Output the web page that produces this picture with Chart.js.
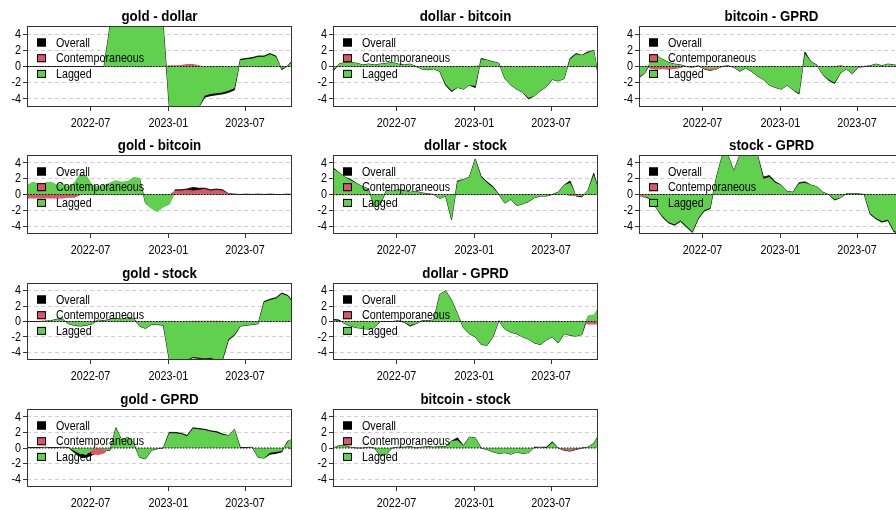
<!DOCTYPE html>
<html>
<head>
<meta charset="utf-8">
<script src="https://cdn.jsdelivr.net/npm/chart.js@4.4.1/dist/chart.umd.min.js"></script>
<style>
  html, body { margin: 0; padding: 0; background: #fff; overflow: hidden; }
  #wrap { position: relative; width: 896px; height: 510px; overflow: hidden; }
  #wrap canvas { position: absolute; }
</style>
</head>
<body>
<div id="wrap"></div>
<script>
// sample dates (roughly every two weeks)
const dates = [
  '2022-02-01','2022-02-15','2022-03-01','2022-03-15','2022-03-29','2022-04-12','2022-04-26','2022-05-10','2022-05-24','2022-06-07',
  '2022-06-21','2022-07-05','2022-07-19','2022-08-02','2022-08-16','2022-08-30','2022-09-13','2022-09-27','2022-10-11','2022-10-25',
  '2022-11-08','2022-11-22','2022-12-06','2022-12-20','2023-01-03','2023-01-17','2023-01-31','2023-02-14','2023-02-28','2023-03-14',
  '2023-03-28','2023-04-11','2023-04-25','2023-05-09','2023-05-23','2023-06-06','2023-06-20','2023-07-04','2023-07-18','2023-08-01',
  '2023-08-15','2023-08-29','2023-09-12','2023-09-26','2023-10-10','2023-10-20'
];
const xStart = '2022-02-01';
const xEnd = '2023-10-20';
const xTickDates = ['2022-07-01', '2023-01-01', '2023-07-01'];
const xTickLabels = ['2022-07', '2023-01', '2023-07'];
const yTicks = [-4, -2, 0, 2, 4];
const legendLabels = ['Overall', 'Contemporaneous', 'Lagged'];

// gold - dollar
const goldDollarOverall = [0,0,0,0,0,0,0,0,0,0, 0,0,0,0,5,5,5,5,5,5, 5,5,5,5,-5,-5,-5,-5,-5,-5,
  -3.8,-3.6,-3.5,-3.4,-3.2,-2.9,0.9,1.0,1.1,1.3, 1.3,1.6,1.3,-0.4,0.1,0.7];
const goldDollarContemp = [0,0,0,0,0,0,0,0,0,0, 0,0,0,0,0,0,0,0,0,0, 0,0,0,0,0.15,0.15,0.2,0.3,0.3,0.15,
  0,0,0,0,0,0,0,0,0,0, 0,0,0,0,0,0];
const goldDollarLagged = [0,0,0,0,0,0,0,0,0,0, 0,0,0,0,5,5,5,5,5,5, 5,5,5,5,-5,-5,-5,-5,-5,-5,
  -3.6,-3.4,-3.3,-3.2,-3.0,-2.7,0.8,0.9,1.0,1.2, 1.2,1.5,1.2,-0.3,0.1,0.6];

// dollar - bitcoin
const dollarBitcoinOverall = [-0.6,0.3,0.5,0.5,0.4,0.2,0.3,0.2,0.3,0.4, 0.5,0.3,0.2,0.3,0,-0.3,-0.4,-0.3,-0.6,-2.3,
  -3.1,-2.6,-2.8,-2.3,-2.6,1.0,0.8,0.6,0.4,-1.5, -2.3,-2.8,-3.2,-4.0,-3.6,-3.0,-2.5,-1.6,-1.8,-1.5, 1.0,1.6,1.4,1.8,2.0,-1.0];
const dollarBitcoinContemp = [0,0,0,0,0,0,0,0,0,0, 0,0,0,0,0,0,0,0,0,0, 0,0,0,0,0.1,0.15,0,0,0,0,
  0,0,0,0,0,0,0,0,0,0, 0,0,0,0,0,0];
const dollarBitcoinLagged = [-0.5,0.3,0.5,0.5,0.4,0.2,0.3,0.2,0.3,0.4, 0.5,0.3,0.2,0.3,0,-0.3,-0.4,-0.3,-0.6,-2.2,
  -3.0,-2.6,-2.8,-2.3,-2.4,0.9,0.8,0.6,0.4,-1.5, -2.3,-2.8,-3.2,-3.9,-3.6,-3.0,-2.5,-1.6,-1.8,-1.5, 0.9,1.5,1.4,1.7,2.0,-0.8];

// bitcoin - GPRD
const bitcoinGprdOverall = [-1.4,-0.8,0.6,1.3,0.9,0.5,0.3,0.2,0,-0.1, 0.1,-0.3,-0.5,-0.3,0,0.1,-0.1,-0.6,-0.2,-0.6,
  -1.2,-1.6,-2.3,-2.6,-2.8,-2.3,-2.9,-3.4,1.8,0.6, 0.2,-1.0,-1.7,-2.1,-0.8,-0.3,-0.9,-0.1,0,0.1, 0.3,0.1,0.3,0.2,0.1,0];
const bitcoinGprdContemp = [0,0,-0.3,-0.4,-0.3,-0.4,-0.3,-0.2,0,0, 0,-0.3,-0.5,-0.4,0,0,0,0,0,0, 0,0,0,0,0,0,0,0,0,0,
  0,0,0,0,0.2,0,0,0,0,0, 0,0,0,0,0,0];
const bitcoinGprdLagged = [-1.3,-0.8,0.8,1.5,0.9,0.5,0.3,0.2,0,-0.1, 0.1,-0.2,-0.3,-0.2,0,0.1,-0.1,-0.6,-0.2,-0.6,
  -1.2,-1.6,-2.3,-2.6,-2.8,-2.3,-2.9,-3.3,1.6,0.6, 0.2,-1.0,-1.6,-2.0,-0.8,-0.3,-0.9,-0.1,0,0.1, 0.3,0.1,0.3,0.2,0.1,0];

// gold - bitcoin
const goldBitcoinOverall = [1.1,1.5,1.3,1.4,1.5,1.2,1.3,0.9,1.4,2.5, 2.3,1.1,0.9,1.1,1.4,1.7,1.5,1.6,2.1,2.0,
  -1.1,-1.7,-2.1,-1.5,-1.2,0.6,0.6,0.7,0.9,0.8, 0.8,0.6,0.7,0.6,0.1,0.05,0,0.05,0,0.05, 0,0.05,0,0,0.05,0];
const goldBitcoinContemp = [-0.5,-0.5,-0.5,-0.5,-0.5,-0.5,-0.5,-0.4,-0.4,-0.1, 0,0,0,0,0,0,0,0,0,0,
  0,0,0,0,0,0.5,0.5,0.6,0.5,0.6, 0.7,0.5,0.6,0.5,0.1,0,0,0,0,0, 0,0,0,0,0,0];
const goldBitcoinLagged = [1.2,1.6,1.4,1.5,1.6,1.3,1.4,1.0,1.5,2.6, 2.4,1.2,1.0,1.2,1.5,1.8,1.6,1.7,2.2,2.1,
  -1.2,-1.8,-2.2,-1.6,-1.3,0.1,0.1,0.1,0.1,0.1, 0.1,0.1,0.1,0.1,0,0,0,0,0,0, 0,0,0,0,0,0];

// dollar - stock
const dollarStockOverall = [3.4,2.8,2.2,1.9,1.4,1.0,0.7,-1.6,-1.2,0.5, 0.4,0.6,0.5,0.3,0.4,0.2,0.1,0,-0.5,-0.2,
  -3.2,1.7,1.9,2.2,4.5,2.3,1.6,1.0,0,-1.1, -0.6,-1.4,-1.2,-0.9,-0.4,-0.2,-0.2,0,0.3,1.2, 1.7,-0.2,-0.3,0.5,2.7,0.8];
const dollarStockContemp = [-0.1,-0.1,-0.1,-0.1,-0.1,-0.1,-0.1,0,0,0, 0,0,0,0,0,0,0,0,0,0, 0,0,0,0,0,0,0,0,0,0,
  0,0,0,0,0,0,0,0,0,0, -0.2,-0.2,-0.2,0,0,0];
const dollarStockLagged = [3.3,2.8,2.2,1.8,1.4,1.0,0.7,-1.6,-1.2,0.5, 0.4,0.6,0.5,0.3,0.4,0.2,0.1,0,-0.5,-0.2,
  -3.2,1.6,1.9,2.2,4.5,2.2,1.5,0.9,0,-1.1, -0.6,-1.4,-1.2,-0.9,-0.4,-0.2,-0.2,0,0.3,1.2, 1.5,-0.1,-0.2,0.5,2.5,0.8];

// stock - GPRD
const stockGprdOverall = [-0.1,-0.3,-0.6,-1.8,-2.9,-3.6,-3.9,-3.4,-4.1,-4.8, -3.1,-2.1,-1.8,2.0,4.8,5,3.0,5,5,5,
  5,2.2,2.4,1.6,1.2,0.4,0.3,1.5,1.6,1.2, 1.0,0.3,0,-0.7,-0.4,0.1,0.1,0.1,0,-2.5, -3.1,-3.5,-3.3,-4.7,-5,-5];
const stockGprdContemp = [-0.2,-0.4,-0.2,0,0,0,0,0,0,0, 0,0,0,0,0,0,0,0,0,0, 0,0,0,0,0,0,0,0,0,0,
  0,0,0,0,0,0,0,0,0,0, 0,0,0,0,0,0];
const stockGprdLagged = [0,-0.2,-0.6,-1.8,-2.8,-3.5,-3.8,-3.3,-4.0,-4.7, -3.0,-2.0,-1.7,2.0,4.8,5,3.0,5,5,5,
  5,2.0,2.2,1.5,1.2,0.4,0.3,1.4,1.5,1.2, 1.0,0.3,0,-0.6,-0.4,0.1,0.1,0.1,0,-2.4, -3.0,-3.4,-3.2,-4.6,-5,-5];

// gold - stock
const goldStockOverall = [0,0,0,0.05,0.1,0.3,0.3,-0.3,-0.5,-0.6, -0.5,-0.3,0.2,0.1,0.3,0.4,0.3,0.5,0.4,-0.6,
  -0.9,-0.4,-0.4,-0.5,-5,-5,-5,-5,-4.7,-4.8, -4.9,-4.8,-5,-5,-2.4,-1.8,-0.6,-0.5,-0.4,-0.3, 2.6,2.9,3.1,3.7,3.4,2.7];
const goldStockContemp = [0,0,0,0,0,0,0,0,0,0, 0,0,0,0,0,0,0,0,0,0, 0,0,0,0,0,0,0,0,0.1,0.1,
  0.1,0.1,0.1,0.1,0,0,0,0,0,0, 0,0,0,0,0,0];
const goldStockLagged = [0,0,0,0.05,0.1,0.3,0.3,-0.3,-0.5,-0.6, -0.5,-0.3,0.2,0.1,0.3,0.4,0.3,0.5,0.4,-0.6,
  -0.9,-0.4,-0.4,-0.5,-5,-5,-5,-5,-4.6,-4.7, -4.8,-4.7,-5,-4.9,-2.3,-1.7,-0.6,-0.5,-0.4,-0.3, 2.5,2.8,3.0,3.6,3.3,2.6];

// dollar - GPRD
const dollarGprdOverall = [0.3,0.2,-0.3,-0.6,-0.8,-0.9,-1.0,-0.8,0,0, 0,0.1,-0.1,-0.6,-0.3,0.1,0.1,0.2,3.5,4.0,
  2.8,1.0,-0.8,-1.6,-2.0,-3.0,-3.1,-2.0,0.1,-1.0, -1.4,-1.6,-2.0,-2.3,-2.8,-3.0,-2.4,-2.0,-2.8,-1.6, -1.8,-1.9,-1.7,0.6,0.7,1.4];
const dollarGprdContemp = [0,0,-0.1,-0.1,-0.1,-0.1,-0.1,-0.1,0,0, 0,0,0,0,0,0,0,0,0,0, 0,0,0,0,0,0,0,0,0,0,
  0,0,0,0,0,0,0,0,0,0, 0,0,0,-0.4,-0.4,-0.4];
const dollarGprdLagged = [0.2,0.1,-0.3,-0.6,-0.8,-0.9,-1.0,-0.8,0,0, 0,0.1,-0.1,-0.5,-0.3,0.1,0.1,0.2,3.5,4.0,
  2.8,1.0,-0.8,-1.6,-2.0,-3.0,-3.1,-2.0,0.1,-1.0, -1.4,-1.6,-2.0,-2.3,-2.8,-3.0,-2.4,-2.0,-2.8,-1.6, -1.8,-1.9,-1.7,0.8,0.9,1.8];

// gold - GPRD
const goldGprdOverall = [0.05,0.05,0.05,0.1,0.05,0.05,0.1,0.05,-0.6,-1.1, -1.2,-0.9,-0.5,-0.3,-0.3,2.6,1.0,1.4,0.6,-1.2,
  -1.4,-0.3,-0.1,0,2.0,2.0,1.9,1.6,2.6,2.5, 2.4,2.2,2.1,1.8,1.6,2.4,0.05,0.05,0.1,-1.2, -1.3,-0.8,-0.7,-0.5,0.9,1.0];
const goldGprdContemp = [0,0,0,0,0,0,0,0,0,0, -0.5,-0.8,-0.9,-0.7,0,0,0,0,0,0, 0,0,0,0,0,0,0,0,0,0,
  0,0,0,0,0,0,0,0,0,0, 0,0,0,0,0,-0.3];
const goldGprdLagged = [0,0,0,0.1,0,0,0.1,0,-0.4,-0.8, -0.9,-0.2,-0.1,-0.2,-0.3,2.6,1.0,1.4,0.6,-1.2,
  -1.4,-0.3,-0.1,0,1.9,1.9,1.8,1.5,2.5,2.4, 2.3,2.1,2.0,1.7,1.6,2.4,0,0,0.1,-1.2, -1.3,-0.6,-0.5,-0.4,0.8,1.3];

// bitcoin - stock
const bitcoinStockOverall = [0,0.3,0.3,0.1,0,0,0.1,0,-1.0,-0.8, 0,0.1,0.1,0.2,0,0.1,0.2,0.1,0.2,0.2,
  0.9,1.3,0.3,1.4,1.3,0,-0.2,-0.5,-0.7,-0.6, -0.8,-0.5,-0.7,-0.6,0.1,0.1,0.1,0.8,0,-0.3, -0.4,-0.2,0,0.1,0.6,1.5];
const bitcoinStockContemp = [0,0,0,0,0,0,0,0,0,0, 0,0,0,0,0,0,0,0,0,0, 0,0,0,0,0,0,0,0,0,0,
  0,0,0,0,0,0,0,0,0,-0.3, -0.4,-0.2,0,0,0,0];
const bitcoinStockLagged = [0,0.3,0.3,0.1,0,0,0.1,0,-1.0,-0.8, 0,0.1,0.1,0.2,0,0.1,0.2,0.1,0.2,0.2,
  0.9,1.0,0.3,1.4,1.3,0,-0.2,-0.5,-0.7,-0.6, -0.8,-0.5,-0.7,-0.6,0,0.1,0,0.7,0,-0.1, -0.2,0,0,0.1,0.6,1.5];

const seriesColors = ['#000000', '#DF536B', '#61D04F'];
const labelFont = "'Liberation Sans', Arial, sans-serif";

const panels = [
  { title: 'gold - dollar', col: 0, row: 0, series: [goldDollarOverall, goldDollarContemp, goldDollarLagged] },
  { title: 'dollar - bitcoin', col: 1, row: 0, series: [dollarBitcoinOverall, dollarBitcoinContemp, dollarBitcoinLagged] },
  { title: 'bitcoin - GPRD', col: 2, row: 0, series: [bitcoinGprdOverall, bitcoinGprdContemp, bitcoinGprdLagged] },
  { title: 'gold - bitcoin', col: 0, row: 1, series: [goldBitcoinOverall, goldBitcoinContemp, goldBitcoinLagged] },
  { title: 'dollar - stock', col: 1, row: 1, series: [dollarStockOverall, dollarStockContemp, dollarStockLagged] },
  { title: 'stock - GPRD', col: 2, row: 1, series: [stockGprdOverall, stockGprdContemp, stockGprdLagged] },
  { title: 'gold - stock', col: 0, row: 2, series: [goldStockOverall, goldStockContemp, goldStockLagged] },
  { title: 'dollar - GPRD', col: 1, row: 2, series: [dollarGprdOverall, dollarGprdContemp, dollarGprdLagged] },
  { title: 'gold - GPRD', col: 0, row: 3, series: [goldGprdOverall, goldGprdContemp, goldGprdLagged] },
  { title: 'bitcoin - stock', col: 1, row: 3, series: [bitcoinStockOverall, bitcoinStockContemp, bitcoinStockLagged] },
];

// grid placement of the small multiples
const colLeft = [0, 306, 612];
const rowTop = [0, 129, 257, 383];
const rowPlotHeight = [81, 79, 77, 78];

function dayNum(d) {
  return (Date.parse(d) - Date.parse(xStart)) / 864e5;
}

// the reference uses a narrow-looking face; squeeze text horizontally around its anchor
function condenseText(ctx) {
  const fill = ctx.fillText.bind(ctx);
  ctx.fillText = (text, x, y) => {
    const k = ctx.font.indexOf('bold') >= 0 ? 0.95 : 0.8;
    ctx.save();
    ctx.translate(x, y);
    ctx.scale(k, 1);
    fill(text, 0, 0);
    ctx.restore();
  };
}

// title over the plot region, zero line, inset legend and box, drawn like in R
const decor = {
  id: 'decor',
  afterDatasetsDraw(chart, args, opts) {
    const { ctx, chartArea: a, scales: { y } } = chart;
    const y0 = y.getPixelForValue(0);
    ctx.save();
    ctx.strokeStyle = '#000';
    ctx.lineWidth = 1.2;
    ctx.setLineDash([1.5, 1.5]);
    ctx.beginPath();
    ctx.moveTo(a.left, y0);
    ctx.lineTo(a.right, y0);
    ctx.stroke();
    ctx.setLineDash([]);

    ctx.font = '13.4px ' + labelFont;
    ctx.textAlign = 'left';
    ctx.textBaseline = 'middle';
    legendLabels.forEach((lab, i) => {
      const cy = a.top + 16.5 + i * 15.7;
      ctx.fillStyle = seriesColors[i];
      ctx.fillRect(a.left + 10, cy - 4, 9, 8);
      ctx.strokeStyle = '#000';
      ctx.lineWidth = 1;
      ctx.strokeRect(a.left + 10.5, cy - 3.5, 8, 7);
      ctx.fillStyle = '#000';
      ctx.fillText(lab, a.left + 29, cy + 0.5);
    });

    ctx.strokeStyle = '#333';
    ctx.lineWidth = 1;
    ctx.strokeRect(a.left + 0.5, a.top + 0.5, a.right - a.left - 1, a.bottom - a.top - 1);

    ctx.font = 'bold 14px ' + labelFont;
    ctx.textAlign = 'center';
    ctx.textBaseline = 'alphabetic';
    ctx.fillStyle = '#000';
    ctx.fillText(opts.title, (a.left + a.right) / 2, a.top - 5);
    ctx.restore();
  }
};

const wrap = document.getElementById('wrap');

panels.forEach((p) => {
  const canvas = document.createElement('canvas');
  const h = 26 + rowPlotHeight[p.row] + 27;
  canvas.width = 300;
  canvas.height = h;
  canvas.style.left = colLeft[p.col] + 'px';
  canvas.style.top = rowTop[p.row] + 'px';
  canvas.style.width = '300px';
  canvas.style.height = h + 'px';
  wrap.appendChild(canvas);
  condenseText(canvas.getContext('2d'));

  // overall at the back, lagged on top
  const datasets = p.series.map((vals, i) => ({
    label: legendLabels[i],
    data: dates.map((d, j) => ({ x: dayNum(d), y: vals[j] })),
    backgroundColor: seriesColors[i],
    borderColor: seriesColors[i],
    borderWidth: i === 0 ? 0.8 : 0,
    pointRadius: 0,
    fill: 'origin',
    tension: 0,
    order: 2 - i,
  }));

  new Chart(canvas, {
    type: 'line',
    data: { datasets },
    options: {
      responsive: false,
      animation: false,
      devicePixelRatio: 1,
      layout: { padding: { left: 0, right: 8, top: 26, bottom: 0 } },
      plugins: {
        legend: { display: false },
        tooltip: { enabled: false },
        title: { display: false },
        decor: { title: p.title },
      },
      scales: {
        x: {
          type: 'linear',
          min: 0,
          max: dayNum(xEnd),
          afterBuildTicks: (scale) => {
            scale.ticks = xTickDates.map((d) => ({ value: dayNum(d) }));
          },
          afterFit: (scale) => { scale.height = 27; },
          ticks: {
            autoSkip: false,
            maxRotation: 0,
            padding: 4,
            color: '#000',
            font: { family: labelFont, size: 13.5 },
            callback: (v) => xTickLabels[xTickDates.findIndex((d) => dayNum(d) === v)],
          },
          grid: { drawOnChartArea: false, drawTicks: true, tickLength: 4, tickColor: '#333' },
          border: { display: false },
        },
        y: {
          min: -5,
          max: 5,
          afterBuildTicks: (scale) => {
            scale.ticks = yTicks.map((v) => ({ value: v }));
          },
          afterFit: (scale) => { scale.width = 27; },
          ticks: {
            padding: 2,
            color: '#000',
            font: { family: labelFont, size: 13.5 },
          },
          grid: {
            color: (c) => (c.tick && c.tick.value === 0 ? 'rgba(0,0,0,0)' : '#cfcfcf'),
            drawTicks: true,
            tickLength: 4,
            tickColor: '#333',
          },
          border: { display: false, dash: [4, 3] },
        },
      },
    },
    plugins: [decor],
  });
});
</script>
</body>
</html>
